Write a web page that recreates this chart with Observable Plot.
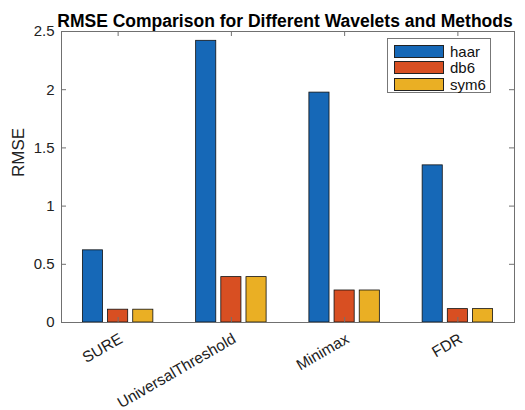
<!DOCTYPE html>
<html>
<head>
<meta charset="utf-8">
<script src="https://cdn.jsdelivr.net/npm/d3@7"></script>
<script src="https://cdn.jsdelivr.net/npm/@observablehq/plot@0.6"></script>
<style>
  html, body { margin: 0; padding: 0; background: #fff; }
  #chart { position: relative; width: 525px; height: 410px; font-family: "Liberation Sans", Arial, Helvetica, sans-serif; }
  #chart svg { display: block; }
  .legend { position: absolute; left: 387px; top: 38px; width: 104px; height: 55px; box-sizing: border-box;
            border: 1px solid #777; background: #fff; padding: 4px 0 0 6px; }
  .legend .row { display: flex; align-items: center; height: 16.5px; font-size: 15px; color: #111; }
  .legend .sw { width: 48px; height: 11px; border: 1px solid #222; margin-right: 6px; }
</style>
</head>
<body>
<div id="chart"></div>
<script>
// RMSE per thresholding method, one array per wavelet
const methods = ["SURE", "UniversalThreshold", "Minimax", "FDR"];
const wavelets = ["haar", "db6", "sym6"];
const haar = [0.62, 2.42, 1.975, 1.35];
const db6 = [0.11, 0.39, 0.275, 0.115];
const sym6 = [0.11, 0.39, 0.275, 0.115];
const yTicks = [0, 0.5, 1, 1.5, 2, 2.5];
const colors = ["#1668B7", "#D84F22", "#EAAF24"];

const values = [haar, db6, sym6];
const rows = methods.flatMap((m, i) =>
  wavelets.map((w, k) => ({method: m, pos: i + 1, wavelet: w, k, value: values[k][i]}))
);

// grouped-bar geometry in x units (one category = 1 unit)
const groupWidth = Math.min(0.8, wavelets.length / (wavelets.length + 1.5));
const slot = groupWidth / wavelets.length;
const barWidth = 0.8 * slot;
const center = d => d.pos + (d.k - (wavelets.length - 1) / 2) * slot;

const W = 525, H = 410;
const mL = 61, mR = 11, mT = 31, mB = 88;
const innerW = W - mL - mR, innerH = H - mT - mB;
const tick = 5;
const font = "Liberation Sans, Arial, Helvetica, sans-serif";
const xTicks = methods.map((m, i) => i + 1);

const plot = Plot.plot({
  width: W,
  height: H,
  marginLeft: mL,
  marginRight: mR,
  marginTop: mT,
  marginBottom: mB,
  style: {fontFamily: font, fontSize: "15px", color: "#222", background: "#fff"},
  x: {domain: [0.5, 4.5]},
  y: {domain: [0, 2.5]},
  color: {domain: wavelets, range: colors},
  marks: [
    Plot.rectY(rows, {
      x1: d => center(d) - barWidth / 2,
      x2: d => center(d) + barWidth / 2,
      y1: 0,
      y2: "value",
      fill: "wavelet",
      stroke: "#111",
      strokeWidth: 0.8
    }),
    Plot.frame({stroke: "#707070", strokeWidth: 1}),
    // inward ticks on all four sides
    Plot.tickY(yTicks, {y: d => d, insetRight: innerW - tick, stroke: "#707070"}),
    Plot.tickY(yTicks, {y: d => d, insetLeft: innerW - tick, stroke: "#707070"}),
    Plot.tickX(xTicks, {x: d => d, insetTop: innerH - tick, stroke: "#707070"}),
    Plot.tickX(xTicks, {x: d => d, insetBottom: innerH - tick, stroke: "#707070"}),
    Plot.axisY({
      ticks: yTicks,
      tickSize: 0,
      tickPadding: 7,
      tickFormat: d => String(d),
      fontSize: 15,
      label: null
    }),
    Plot.axisX({
      ticks: xTicks,
      tickSize: 0,
      tickPadding: 10,
      tickRotate: -30,
      tickFormat: d => methods[d - 1],
      fontSize: 15.5,
      dx: 3,
      dy: 5,
      label: null
    }),
    // y-axis title
    Plot.text(["RMSE"], {
      frameAnchor: "left",
      rotate: -90,
      dx: -43,
      fontSize: 17,
      fill: "#222"
    }),
    Plot.text(["RMSE Comparison for Different Wavelets and Methods"], {
      frameAnchor: "top",
      dx: -3,
      dy: -17,
      fontSize: 17.5,
      fontWeight: "bold",
      fill: "#000"
    })
  ]
});

const chart = document.getElementById("chart");
chart.appendChild(plot);

// legend box in the upper-right corner of the axes
const legend = document.createElement("div");
legend.className = "legend";
wavelets.forEach((w, k) => {
  const row = document.createElement("div");
  row.className = "row";
  const sw = document.createElement("span");
  sw.className = "sw";
  sw.style.background = colors[k];
  const label = document.createElement("span");
  label.textContent = w;
  row.appendChild(sw);
  row.appendChild(label);
  legend.appendChild(row);
});
chart.appendChild(legend);
</script>
</body>
</html>
